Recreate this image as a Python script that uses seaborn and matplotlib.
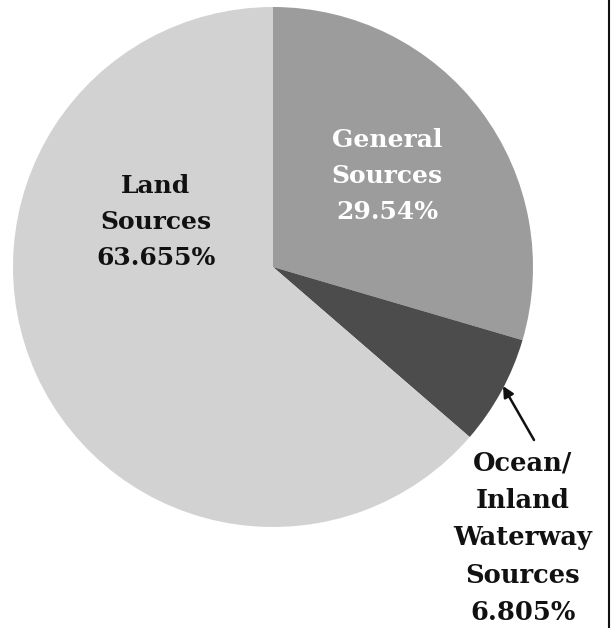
import matplotlib
matplotlib.use("Agg")
import matplotlib.pyplot as plt
import seaborn as sns
from matplotlib.lines import Line2D

sns.set_theme(style="white")

categories = ["General\nSources", "Ocean/\nInland\nWaterway\nSources", "Land\nSources"]
values = [29.54, 6.805, 63.655]
value_labels = ["29.54%", "6.805%", "63.655%"]
colors = sns.color_palette(["#9c9c9c", "#4c4c4c", "#d2d2d2"])

fig = plt.figure(figsize=(6.12, 6.28), dpi=100)
fig.patch.set_facecolor("white")
W, H = 612, 628
cx, cy, r = 273, 267, 260
ax = fig.add_axes([(cx - r) / W, (H - cy - r) / H, 2 * r / W, 2 * r / H])
ax.pie(values, colors=colors, startangle=90, counterclock=False,
       radius=1, wedgeprops=dict(linewidth=0))
ax.set_xlim(-1, 1)
ax.set_ylim(-1, 1)
ax.set_aspect("equal")
ax.axis("off")

font = dict(family="DejaVu Serif", fontweight="bold", fontsize=18,
            ha="center", va="center", linespacing=1.62)

def px(x, y):
    return (x - cx) / r, (cy - y) / r

ax.text(*px(387, 176), f"{categories[0]}\n{value_labels[0]}", color="white", **font)
ax.text(*px(156, 222), f"{categories[2]}\n{value_labels[2]}", color="#111111", **font)
ax.text(*px(523, 538), f"{categories[1]}\n{value_labels[1]}", color="#111111",
        clip_on=False, **{**font, "fontsize": 18.5})

ax.annotate("", xy=px(503, 386), xytext=px(534, 440),
            arrowprops=dict(arrowstyle="-|>", color="#111111", lw=1.8,
                            mutation_scale=16, shrinkA=0, shrinkB=0),
            annotation_clip=False)

fig.add_artist(Line2D([609 / W, 609 / W], [0, 1], color="#111111", lw=1.5,
                      transform=fig.transFigure))

fig.savefig("out.png", dpi=100, facecolor="white")
